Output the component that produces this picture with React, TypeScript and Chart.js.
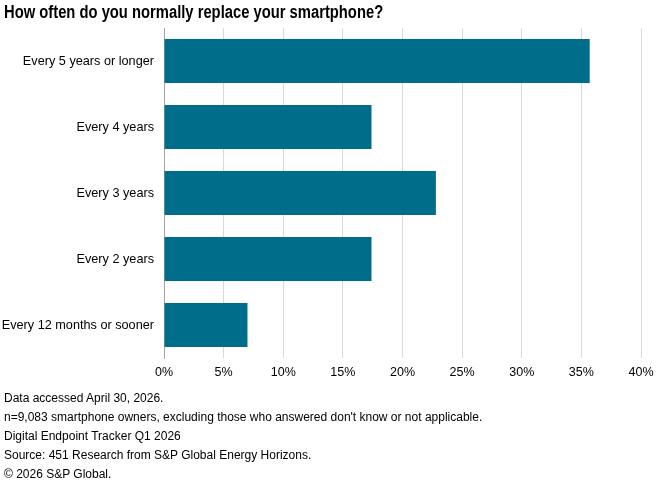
import React, { useEffect, useRef } from "react";
import { Chart, registerables } from "chart.js";

Chart.register(...registerables);

const categories = [
  "Every 5 years or longer",
  "Every 4 years",
  "Every 3 years",
  "Every 2 years",
  "Every 12 months or sooner",
];
const values = [35.7, 17.4, 22.8, 17.4, 7.0];
const xTicks = [0, 5, 10, 15, 20, 25, 30, 35, 40];
const title = "How often do you normally replace your smartphone?";
const footnotes = [
  "Data accessed April 30, 2026.",
  "n=9,083 smartphone owners, excluding those who answered don't know or not applicable.",
  "Digital Endpoint Tracker Q1 2026",
  "Source: 451 Research from S&P Global Energy Horizons.",
  "\u00a9 2026 S&P Global.",
];

const FONT = "'Liberation Sans', Arial, sans-serif";

export default function App() {
  const ref = useRef<HTMLCanvasElement>(null);
  useEffect(() => {
    if (!ref.current) return;
    const chart = new Chart(ref.current, {
      type: "bar",
      data: {
        labels: categories,
        datasets: [
          {
            data: values,
            backgroundColor: "#006E8A",
            borderWidth: 0,
            categoryPercentage: 0.667,
            barPercentage: 1,
          },
        ],
      },
      options: {
        indexAxis: "y",
        animation: false,
        responsive: false,
        maintainAspectRatio: false,
        layout: { padding: { left: 0, right: 21, top: 28, bottom: 92 } },
        plugins: { legend: { display: false }, tooltip: { enabled: false } },
        scales: {
          x: {
            min: 0,
            max: 40,
            afterBuildTicks: (s: any) => {
              s.ticks = xTicks.map((v) => ({ value: v }));
            },
            afterFit: (s: any) => {
              s.height = 30;
            },
            ticks: {
              callback: (v: any) => v + "%",
              color: "#000",
              font: { family: FONT, size: 12.5 },
              padding: 7,
              maxRotation: 0,
            },
            grid: { color: "#D9D9D9", drawTicks: false, lineWidth: 1 },
            border: { display: false },
          },
          y: {
            afterFit: (s: any) => {
              s.width = 164;
            },
            ticks: {
              color: "#000",
              font: { family: FONT, size: 12.7 },
              padding: 10,
            },
            grid: { display: false, drawTicks: false },
            border: { display: true, color: "#A6A6A6", width: 1 },
          },
        },
      },
    });
    return () => chart.destroy();
  }, []);

  return (
    <div style={{ position: "absolute", left: 0, top: 0, width: 662, height: 480, background: "#fff", overflow: "hidden" }}>
      <canvas ref={ref} width={662} height={480} style={{ position: "absolute", left: 0, top: 0 }} />
      <div
        style={{
          position: "absolute",
          left: 4,
          top: 1,
          fontFamily: FONT,
          fontWeight: "bold",
          fontSize: 17.5,
          lineHeight: "22px",
          color: "#000",
          whiteSpace: "nowrap",
          transform: "scaleX(0.844)",
          transformOrigin: "0 0",
        }}
      >
        {title}
      </div>
      <div
        style={{
          position: "absolute",
          left: 4,
          top: 389,
          fontFamily: FONT,
          fontSize: 12,
          lineHeight: "19.1px",
          color: "#000",
          whiteSpace: "nowrap",
        }}
      >
        {footnotes.map((f, i) => (
          <div key={i}>{f}</div>
        ))}
      </div>
    </div>
  );
}
